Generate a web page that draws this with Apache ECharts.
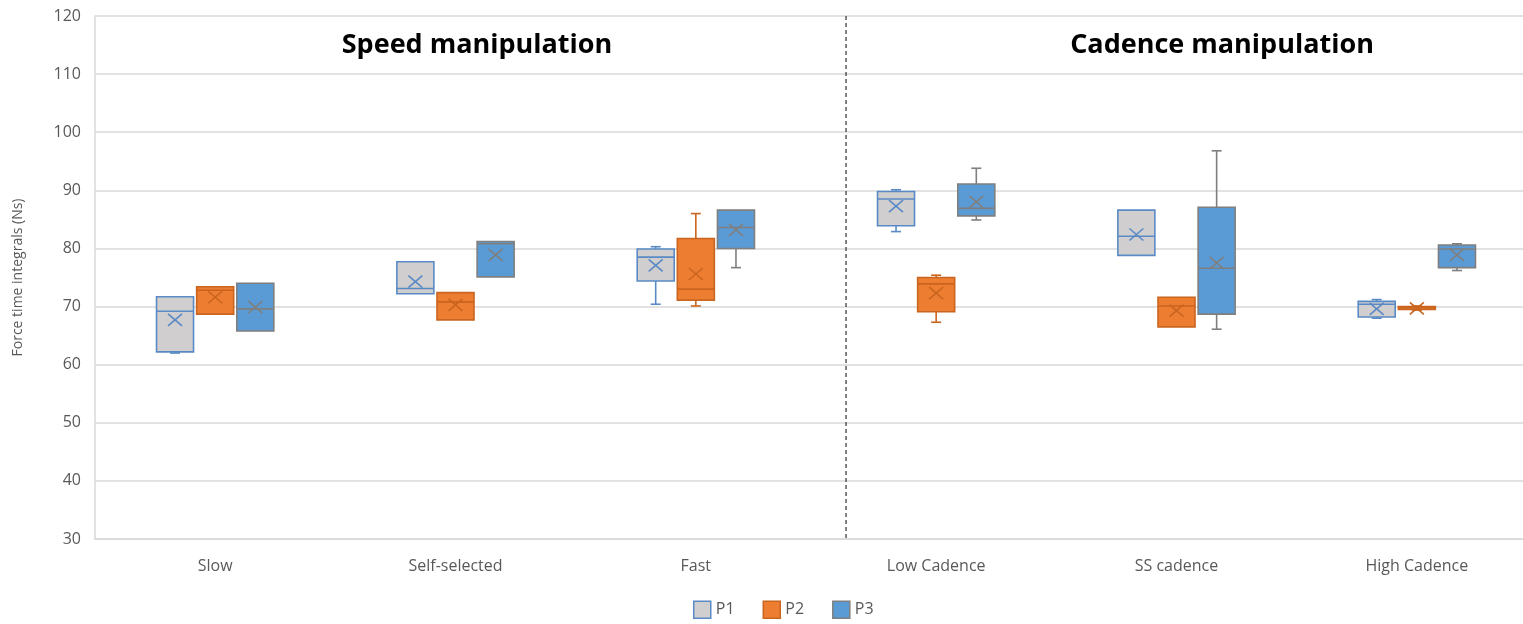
<!DOCTYPE html>
<html>
<head>
<meta charset="utf-8">
<script src="https://cdn.jsdelivr.net/npm/echarts@6/dist/echarts.min.js"></script>
<style>html,body{margin:0;padding:0;background:#fff;overflow:hidden;}#c{width:1537px;height:624px;}</style>
</head>
<body>
<div id="c"></div>
<script>
// Categories
const categories = ['Slow', 'Self-selected', 'Fast', 'Low Cadence', 'SS cadence', 'High Cadence'];
const seriesNames = ['P1', 'P2', 'P3'];
const groupTitles = ['Speed manipulation', 'Cadence manipulation'];
const yTicks = [30, 40, 50, 60, 70, 80, 90, 100, 110, 120];
// Each entry: [min, Q1, median, Q3, max, mean]
const p1Stats = [
  [62.0, 62.2, 69.2, 71.7, 71.7, 67.7],
  [72.2, 72.2, 73.1, 77.7, 77.7, 74.3],
  [70.4, 74.4, 78.5, 79.9, 80.3, 77.1],
  [82.9, 83.9, 88.5, 89.8, 90.1, 87.3],
  [78.8, 78.8, 82.1, 86.6, 86.6, 82.4],
  [68.0, 68.2, 70.4, 70.9, 71.2, 69.6]
];
const p2Stats = [
  [68.7, 68.7, 72.8, 73.4, 73.4, 71.6],
  [67.7, 67.7, 70.8, 72.4, 72.4, 70.3],
  [70.1, 71.1, 73.0, 81.7, 86.0, 75.6],
  [67.3, 69.1, 73.9, 75.0, 75.4, 72.3],
  [66.5, 66.5, 70.1, 71.6, 71.6, 69.3],
  [69.4, 69.5, 69.8, 70.0, 70.1, 69.7]
];
const p3Stats = [
  [65.8, 65.8, 69.6, 74.0, 74.0, 69.9],
  [75.1, 75.1, 80.8, 81.2, 81.2, 78.9],
  [76.7, 80.0, 83.6, 86.6, 86.6, 83.2],
  [84.9, 85.6, 86.9, 91.1, 93.8, 88.0],
  [66.1, 68.7, 76.6, 87.1, 96.8, 77.5],
  [76.2, 76.7, 79.9, 80.6, 80.8, 78.9]
];
// Separator position between Fast and Low Cadence (category units)
const separatorAt = 2.625;

const fills = ['#D0CECE', '#ED7D31', '#5B9BD5'];
const strokes = ['#5A8AC6', '#C9651F', '#7F7F7F'];
const offsets = [-0.167, 0, 0.167];
const boxW = 0.154;

function makeRender(si) {
  return function (params, api) {
    const ci = api.value(0);
    const band = api.size([1, 0])[0];
    const cx = api.coord([ci, 0])[0] + offsets[si] * band;
    const half = boxW * band / 2;
    const y = v => api.coord([ci, v])[1];
    const yMin = y(api.value(1)), yQ1 = y(api.value(2)), yMed = y(api.value(3)),
          yQ3 = y(api.value(4)), yMax = y(api.value(5)), yMean = y(api.value(6));
    const st = { stroke: strokes[si], lineWidth: 1.6, fill: null };
    const children = [];
    const cap = 5;
    if (api.value(5) > api.value(4)) {
      children.push({ type: 'line', shape: { x1: cx, y1: yQ3, x2: cx, y2: yMax }, style: st });
      children.push({ type: 'line', shape: { x1: cx - cap, y1: yMax, x2: cx + cap, y2: yMax }, style: st });
    }
    if (api.value(1) < api.value(2)) {
      children.push({ type: 'line', shape: { x1: cx, y1: yQ1, x2: cx, y2: yMin }, style: st });
      children.push({ type: 'line', shape: { x1: cx - cap, y1: yMin, x2: cx + cap, y2: yMin }, style: st });
    }
    children.push({ type: 'rect', shape: { x: cx - half, y: yQ3, width: half * 2, height: Math.max(yQ1 - yQ3, 2) },
      style: { fill: fills[si], stroke: strokes[si], lineWidth: 1.6 } });
    children.push({ type: 'line', shape: { x1: cx - half, y1: yMed, x2: cx + half, y2: yMed }, style: st });
    const m = 7, mh = 6;
    children.push({ type: 'line', shape: { x1: cx - m, y1: yMean - mh, x2: cx + m, y2: yMean + mh }, style: st });
    children.push({ type: 'line', shape: { x1: cx - m, y1: yMean + mh, x2: cx + m, y2: yMean - mh }, style: st });
    return { type: 'group', children };
  };
}

function toData(stats) {
  return stats.map((s, i) => [i].concat(s));
}

const allStats = [p1Stats, p2Stats, p3Stats];
const series = allStats.map((stats, si) => ({
  name: seriesNames[si],
  type: 'custom',
  renderItem: makeRender(si),
  encode: { x: 0, y: [1, 2, 3, 4, 5, 6] },
  itemStyle: { color: fills[si], borderColor: strokes[si], borderWidth: 1.6 },
  data: toData(stats),
  z: 3
}));

series.push({
  type: 'custom',
  silent: true,
  z: 2,
  data: [[separatorAt]],
  encode: { x: 0 },
  renderItem: function (params, api) {
    const band = api.size([1, 0])[0];
    const base = Math.floor(separatorAt);
    const x = api.coord([base, 30])[0] + (separatorAt - base) * band;
    const yTop = api.coord([base, 120])[1];
    const yBot = api.coord([base, 30])[1];
    return { type: 'line', shape: { x1: x, y1: yTop, x2: x, y2: yBot },
      style: { stroke: '#404040', lineWidth: 1.3, lineDash: [4, 3] } };
  }
});

const chart = echarts.init(document.getElementById('c'));
chart.setOption({
  animation: false,
  backgroundColor: '#fff',
  title: [
    { text: groupTitles[0], left: 472, top: 27, textAlign: 'center',
      textStyle: { fontFamily: 'Open Sans', fontWeight: 'bold', fontSize: 27, color: '#000' } },
    { text: groupTitles[1], left: 1217, top: 27, textAlign: 'center',
      textStyle: { fontFamily: 'Open Sans', fontWeight: 'bold', fontSize: 27, color: '#000' } }
  ],
  grid: { left: 95, right: 0, top: 16, bottom: 85, containLabel: false },
  legend: {
    bottom: 0, left: 688,
    itemWidth: 17, itemHeight: 17, itemGap: 28,
    icon: 'rect',
    textStyle: { fontFamily: 'Open Sans', fontSize: 16, color: '#595959' },
    data: seriesNames.map((n, i) => ({ name: n, itemStyle: { color: fills[i], borderColor: strokes[i], borderWidth: 1.5 } }))
  },
  xAxis: {
    type: 'category',
    data: categories,
    boundaryGap: true,
    axisLine: { show: true, lineStyle: { color: '#D9D9D9', width: 1.5 } },
    axisTick: { show: false },
    axisLabel: { fontFamily: 'Open Sans', fontSize: 16, color: '#595959', margin: 19 },
    splitLine: { show: false }
  },
  yAxis: {
    type: 'value',
    min: yTicks[0], max: yTicks[yTicks.length - 1], interval: 10,
    name: 'Force time integrals (Ns)',
    nameLocation: 'middle', nameGap: 70, nameRotate: 90,
    nameTextStyle: { fontFamily: 'Open Sans', fontSize: 14, color: '#595959' },
    axisLine: { show: true, lineStyle: { color: '#D9D9D9', width: 1.5 } },
    axisTick: { show: false },
    axisLabel: { fontFamily: 'Open Sans', fontSize: 16, color: '#595959', margin: 14 },
    splitLine: { show: true, lineStyle: { color: '#D9D9D9', width: 1.5 } }
  },
  series
});
</script>
</body>
</html>
